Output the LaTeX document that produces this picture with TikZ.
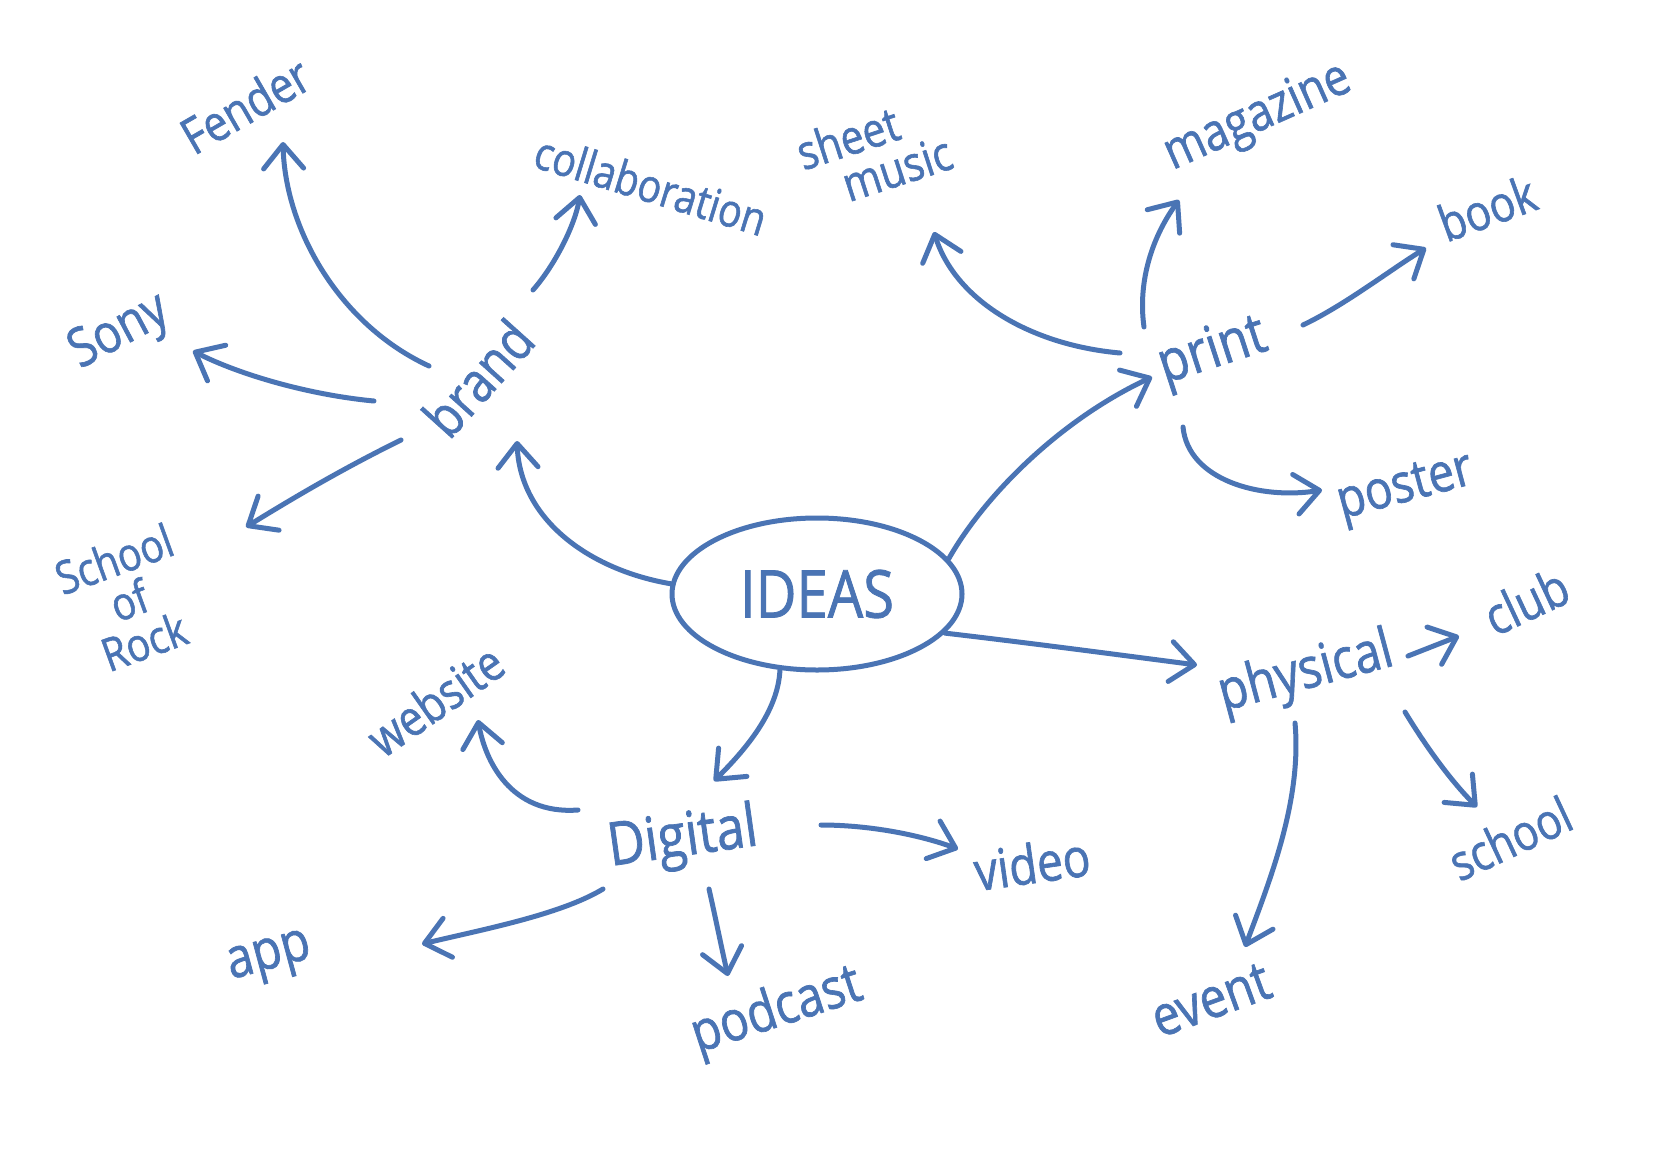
\documentclass[tikz,border=0pt]{standalone}
\usepackage{fontspec}
\setmainfont{Open Sans}[FakeStretch=0.85,FakeBold=1.2]
\usetikzlibrary{arrows.meta,shapes.geometric}
\definecolor{ink}{HTML}{4A74B4}
\newcommand{\fs}[1]{\fontsize{#1}{#1}\selectfont}
\begin{document}
\begin{tikzpicture}[x=1pt,y=-1pt,
  lbl/.style={text=ink,inner sep=0pt,align=center},
  conn/.style={draw=ink,line width=5pt,line cap=round,line join=round,
    -{Straight Barb[length=24pt,width=40pt,line cap=round,line join=round]}}]
\useasboundingbox[fill=white] (0,0) rectangle (1654,1170);

% central node
\node[draw=ink,line width=5pt,ellipse,minimum width=290pt,minimum height=152pt,
      text=ink,font=\fs{66}] (ideas) at (817,594) {IDEAS};

% labels
\node[lbl,font=\fs{56},rotate=48] (brand) at (478,378) {brand};
\node[lbl,font=\fs{50},rotate=30] (fender) at (245,105) {Fender};
\node[lbl,font=\fs{46},rotate=-17] (collab) at (651,185) {collaboration};
\node[lbl,font=\fs{54},rotate=28] (sony) at (120,333) {Sony};
\node[lbl,font=\fs{46},rotate=20] (school) at (129,600) {School\\[-2pt]of\\[-2pt]Rock};
\node[lbl,font=\fs{48},rotate=18,align=left] (sheet) at (874,152) {sheet\\[-4pt]\hspace*{0.7em}music};
\node[lbl,font=\fs{52},rotate=24] (magazine) at (1258,118) {magazine};
\node[lbl,font=\fs{50},rotate=20] (book) at (1487,208) {book};
\node[lbl,font=\fs{58},rotate=18] (print) at (1213,353) {print};
\node[lbl,font=\fs{54},rotate=15] (poster) at (1406,490) {poster};
\node[lbl,font=\fs{56},rotate=15] (physical) at (1306,674) {physical};
\node[lbl,font=\fs{52},rotate=25] (club) at (1526,601) {club};
\node[lbl,font=\fs{50},rotate=25] (schoolb) at (1510,838) {school};
\node[lbl,font=\fs{56},rotate=20] (event) at (1211,1000) {event};
\node[lbl,font=\fs{60},rotate=8] (digital) at (683,840) {Digital};
\node[lbl,font=\fs{50},rotate=35] (website) at (435,700) {website};
\node[lbl,font=\fs{54},rotate=8] (video) at (1032,863) {video};
\node[lbl,font=\fs{56},rotate=15] (app) at (270,960) {app};
\node[lbl,font=\fs{56},rotate=18] (podcast) at (777,1012) {podcast};

% connector end points
\coordinate (bS) at (517,441);
\coordinate (pS) at (1152,377);
\coordinate (phS) at (1197,665);
\coordinate (dS) at (714,781);
\coordinate (bF0) at (429,366);  \coordinate (bF1) at (283,142);
\coordinate (bC0) at (533,290);  \coordinate (bC1) at (580,195);
\coordinate (bY0) at (374,401);  \coordinate (bY1) at (193,351);
\coordinate (bR0) at (401,440);  \coordinate (bR1) at (246,527);
\coordinate (pM0) at (1120,353); \coordinate (pM1) at (934,232);
\coordinate (pG0) at (1144,327); \coordinate (pG1) at (1179,200);
\coordinate (pB0) at (1303,325); \coordinate (pB1) at (1426,248);
\coordinate (pP0) at (1183,427); \coordinate (pP1) at (1322,490);
\coordinate (hC0) at (1408,656); \coordinate (hC1) at (1459,636);
\coordinate (hS0) at (1405,712); \coordinate (hS1) at (1477,807);
\coordinate (hE0) at (1295,723); \coordinate (hE1) at (1245,947);
\coordinate (dW0) at (578,810);  \coordinate (dW1) at (478,720);
\coordinate (dV0) at (821,825);  \coordinate (dV1) at (958,849);
\coordinate (dA0) at (603,889);  \coordinate (dA1) at (422,944);
\coordinate (dP0) at (709,889);  \coordinate (dP1) at (728,976);

% from IDEAS
\draw[conn] (ideas.176) .. controls (590,570) and (520,520) .. (bS);
\draw[conn] (ideas.15) .. controls (985,495) and (1060,420) .. (pS);
\draw[conn] (ideas.-17) .. controls (1030,643) and (1120,655) .. (phS);
\draw[conn] (ideas.-116) .. controls (778,712) and (745,750) .. (dS);

% brand
\draw[conn] (bF0) .. controls (340,325) and (285,230) .. (bF1);
\draw[conn] (bC0) .. controls (555,265) and (575,225) .. (bC1);
\draw[conn] (bY0) .. controls (310,395) and (240,375) .. (bY1);
\draw[conn] (bR0) .. controls (340,470) and (290,500) .. (bR1);

% print
\draw[conn] (pM0) .. controls (1030,345) and (955,300) .. (pM1);
\draw[conn] (pG0) .. controls (1138,285) and (1150,240) .. (pG1);
\draw[conn] (pB0) .. controls (1345,305) and (1390,270) .. (pB1);
\draw[conn] (pP0) .. controls (1188,480) and (1260,500) .. (pP1);

% physical
\draw[conn] (hC0) -- (hC1);
\draw[conn] (hS0) .. controls (1425,745) and (1450,780) .. (hS1);
\draw[conn] (hE0) .. controls (1302,800) and (1270,880) .. (hE1);

% Digital
\draw[conn] (dW0) .. controls (510,815) and (485,760) .. (dW1);
\draw[conn] (dV0) .. controls (870,825) and (920,835) .. (dV1);
\draw[conn] (dA0) .. controls (560,915) and (480,930) .. (dA1);
\draw[conn] (dP0) .. controls (716,920) and (722,950) .. (dP1);
\end{tikzpicture}
\end{document}
